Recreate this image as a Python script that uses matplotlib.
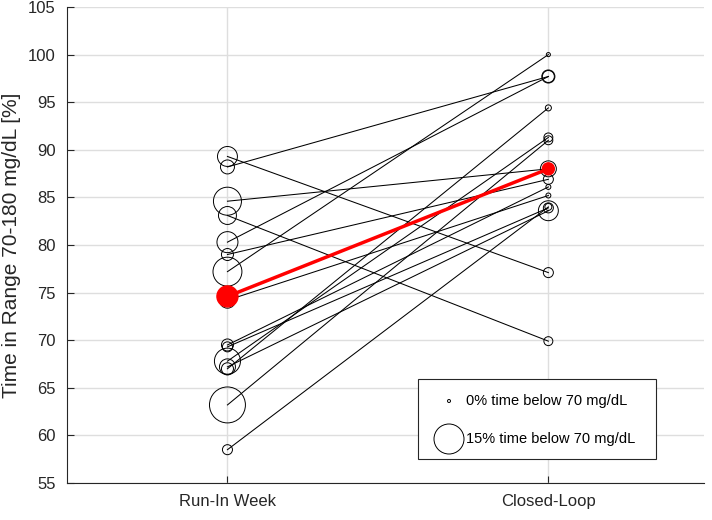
import matplotlib
matplotlib.use("Agg")
import matplotlib.pyplot as plt
from matplotlib.patches import Rectangle

plt.rcParams['font.family'] = ['Liberation Sans', 'DejaVu Sans']

categories = ["Run-In Week", "Closed-Loop"]
tir_runin = [89.3, 88.2, 84.6, 83.1, 80.3, 79.0, 77.2, 74.2, 69.5, 69.3, 67.8, 67.2, 67.0, 63.2, 58.5]
tir_closed = [77.1, 97.7, 88.0, 69.9, 97.7, 86.9, 100.0, 85.2, 86.1, 83.9, 91.3, 83.6, 94.4, 91.0, 84.0]
tbr_runin = [9.4, 6.1, 13.9, 8.3, 10.0, 5.0, 14.4, 7.2, 5.0, 3.9, 12.8, 7.2, 5.0, 18.3, 3.9]
tbr_closed = [3.9, 5.6, 7.2, 3.3, 5.0, 3.9, 0.6, 1.1, 1.1, 3.9, 3.3, 9.4, 1.7, 3.3, 2.2]
mean_tir = [74.6, 88.0]
mean_tbr = [10.0, 5.0]
legend_tbr = [0, 15]
legend_labels = ["0% time below 70 mg/dL", "15% time below 70 mg/dL"]
yticks = list(range(55, 106, 5))


def msize(tbr):
    d_px = 3 + 1.8 * tbr
    return (d_px * 0.72) ** 2


fig = plt.figure(figsize=(7.12, 5.2), dpi=100)
ax = fig.add_axes([67 / 712, 1 - 483 / 520, (704 - 67) / 712, (483 - 7) / 520])

xs = [1, 2]
dark = '#262626'
for a, b in zip(tir_runin, tir_closed):
    ax.plot(xs, [a, b], color='black', lw=0.75, zorder=3)
ax.scatter([1] * len(tir_runin), tir_runin, s=[msize(t) for t in tbr_runin],
           facecolors='none', edgecolors='black', linewidths=0.7, zorder=4)
ax.scatter([2] * len(tir_closed), tir_closed, s=[msize(t) for t in tbr_closed],
           facecolors='none', edgecolors='black', linewidths=0.7, zorder=4)

ax.plot(xs, mean_tir, color='#ff0000', lw=2.5, zorder=5)
ax.scatter(xs, mean_tir, s=[msize(t) for t in mean_tbr], color='#ff0000', zorder=6)

ax.set_xlim(0.5, 2.485)
ax.set_ylim(55, 105)
ax.set_xticks(xs)
ax.set_xticklabels(categories)
ax.set_yticks(yticks)
ax.set_ylabel("Time in Range 70-180 mg/dL [%]", fontsize=15, color=dark, labelpad=5)
ax.tick_params(axis='both', direction='in', length=5, width=0.8, colors=dark,
               labelsize=12, pad=8)
ax.grid(True, color='#dedede', lw=1, zorder=0)
ax.set_axisbelow(True)
for side in ['top', 'right']:
    ax.spines[side].set_visible(False)
for side in ['left', 'bottom']:
    ax.spines[side].set_color(dark)
    ax.spines[side].set_linewidth(0.8)

# legend box (manual)
def ax_frac(px, py):
    return ((px - 67) / (704 - 67), (483 - py) / (483 - 7))

x0, y0 = ax_frac(418, 459)
x1, y1 = ax_frac(656, 379)
ax.add_patch(Rectangle((x0, y0), x1 - x0, y1 - y0, transform=ax.transAxes,
                       facecolor='white', edgecolor=dark, lw=0.8, zorder=10))
for t, lab, py in zip(legend_tbr, legend_labels, [401, 439]):
    mx, my = ax_frac(449, py)
    ax.scatter([mx], [my], s=msize(t), facecolors='none', edgecolors='black',
               linewidths=0.7, transform=ax.transAxes, zorder=11, clip_on=False)
    tx, ty = ax_frac(466, py)
    ax.text(tx, ty, lab, transform=ax.transAxes, fontsize=10.5, color='black',
            va='center', ha='left', zorder=11)

fig.savefig("out.png", dpi=100)
